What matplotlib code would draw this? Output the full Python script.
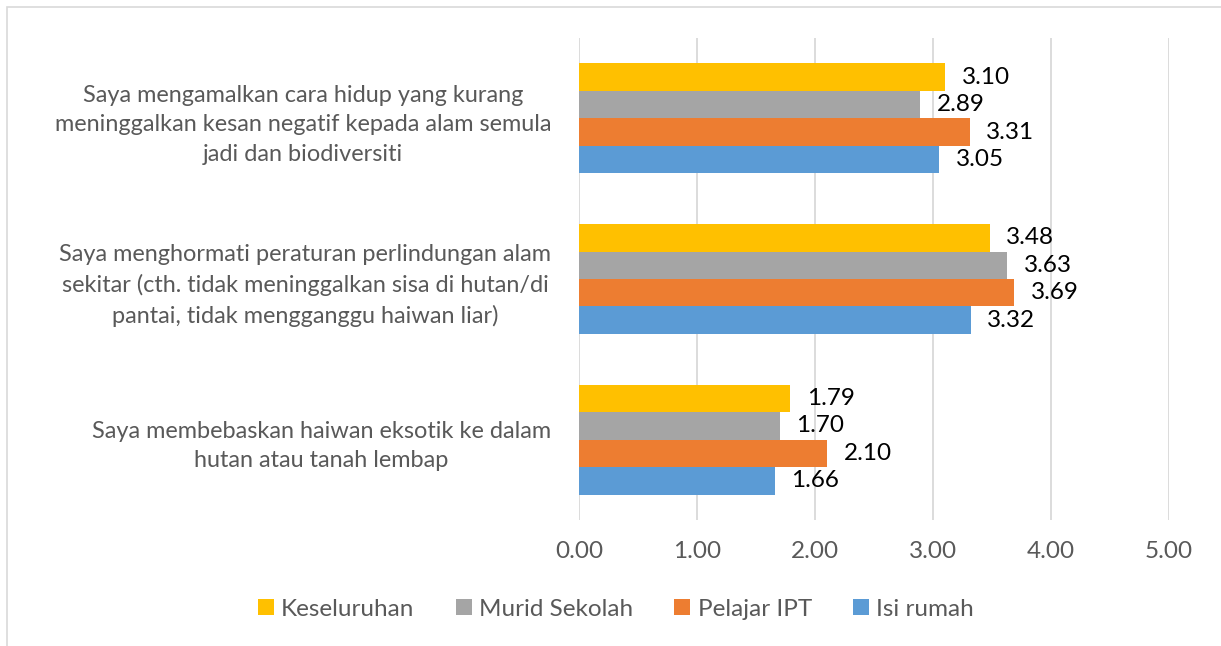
import numpy as np
import matplotlib.pyplot as plt
from matplotlib.patches import Rectangle

# Categories (top to bottom)
categories = [
    "Saya mengamalkan cara hidup yang kurang\nmeninggalkan kesan negatif kepada alam semula\njadi dan biodiversiti",
    "Saya menghormati peraturan perlindungan alam\nsekitar (cth. tidak meninggalkan sisa di hutan/di\npantai, tidak mengganggu haiwan liar)",
    "Saya membebaskan haiwan eksotik ke dalam\nhutan atau tanah lembap",
]

series_names = ["Keseluruhan", "Murid Sekolah", "Pelajar IPT", "Isi rumah"]
keseluruhan = [3.10, 3.48, 1.79]
murid_sekolah = [2.89, 3.63, 1.70]
pelajar_ipt = [3.31, 3.69, 2.10]
isi_rumah = [3.05, 3.32, 1.66]
series_values = [keseluruhan, murid_sekolah, pelajar_ipt, isi_rumah]
colors = ["#FFC000", "#A5A5A5", "#ED7D31", "#5B9BD5"]

xticks = [0, 1, 2, 3, 4, 5]

plt.rcParams['font.family'] = ['Lato', 'DejaVu Sans']

fig = plt.figure(figsize=(12.21, 6.46), dpi=100)
ax = fig.add_axes([579 / 1221, 1 - 520 / 646, 590 / 1221, 482 / 646])

# chart border (cropped at right and bottom)
fig.patches.append(Rectangle((7 / 1221, -0.05), 1.1, 1 - 7 / 646 + 0.05,
                             transform=fig.transFigure, fill=False,
                             edgecolor="#D9D9D9", linewidth=1.2))

y = np.arange(len(categories))
h = 0.171
for k, (name, vals, c) in enumerate(zip(series_names, series_values, colors)):
    off = (k - 1.5) * h
    bars = ax.barh(y + off, vals, height=h, color=c, label=name, zorder=3)
    for b, v in zip(bars, vals):
        ax.annotate(f"{v:.2f}", (v, b.get_y() + b.get_height() / 2),
                    xytext=(12, 0), textcoords="offset points",
                    va="center", ha="left", fontsize=17.5, color="#000000")

ax.set_xlim(0, 5)
ax.set_ylim(len(categories) - 0.5, -0.5)
ax.set_xticks(xticks)
ax.set_xticklabels([f"{t:.2f}" for t in xticks], fontsize=17.5, color="#595959")
ax.set_yticks(y)
ax.set_yticklabels(categories, fontsize=16.9, color="#595959", linespacing=1.5,
                   multialignment="center")
ax.tick_params(axis="x", length=0, pad=15)
ax.tick_params(axis="y", length=0, pad=20)
ax.grid(axis="x", color="#D9D9D9", linewidth=1.3, zorder=0)
for s in ax.spines.values():
    s.set_visible(False)

handles, labels = ax.get_legend_handles_labels()
fig.legend(handles, labels, loc="center", bbox_to_anchor=(616 / 1221, 1 - 609 / 646),
           ncol=4, frameon=False, fontsize=17.5, handlelength=0.65, handleheight=0.65,
           handletextpad=0.3, columnspacing=1.7, labelcolor="#595959")

fig.savefig("out.png", dpi=100)
